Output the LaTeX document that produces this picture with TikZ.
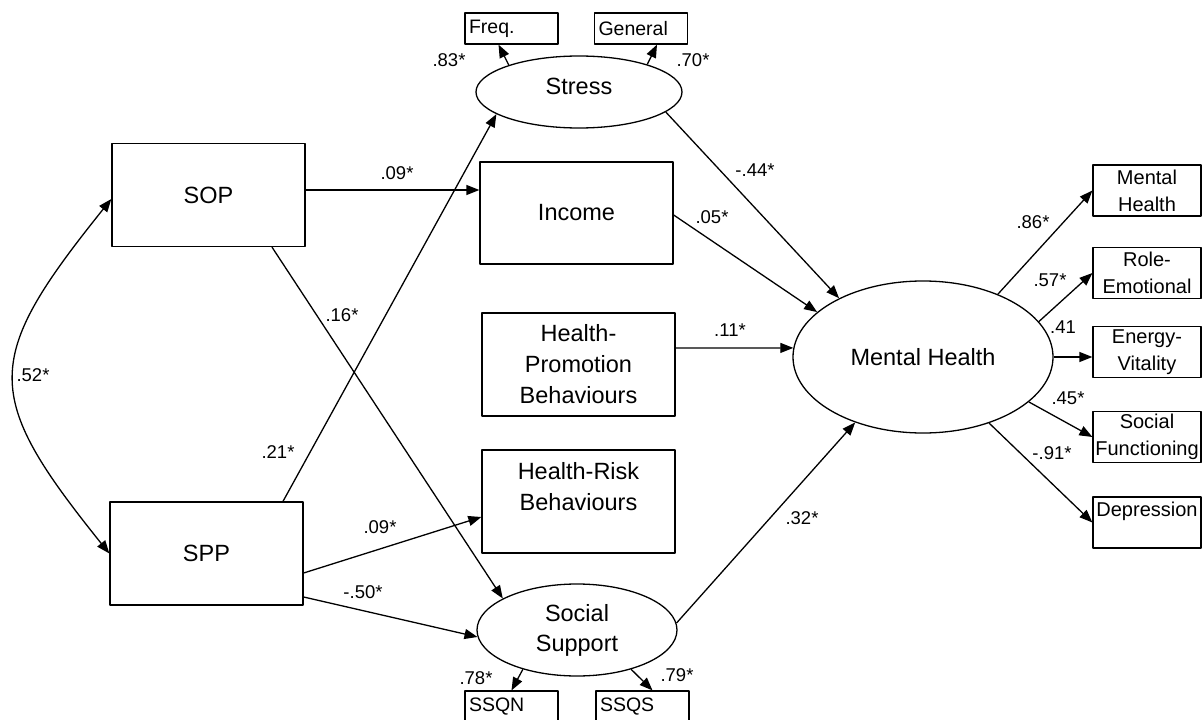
\documentclass[tikz,border=0pt]{standalone}
\usepackage{fontspec}
\setmainfont{Liberation Sans}
\usetikzlibrary{arrows.meta,positioning,calc,shapes.geometric}
\tikzset{
    every picture/.style={line join=round},
    obsbox/.style={draw,line width=1.3pt,minimum width=193pt,minimum height=103pt,
      inner sep=2pt,align=center,font=\fontsize{23.5}{31}\selectfont},
    latentnode/.style={draw,ellipse,line width=1.3pt,inner sep=0pt,align=center,
      font=\fontsize{23.5}{30}\selectfont},
    indbox/.style={draw,line width=1.2pt,minimum width=108pt,minimum height=51pt,
      inner sep=1pt,align=center,font=\fontsize{20}{27}\selectfont},
    tagbox/.style={draw,line width=1.2pt,minimum width=93pt,minimum height=31pt,
      text width=85pt,inner sep=4pt,align=left,font=\fontsize{19.5}{22}\selectfont},
    coef/.style={inner sep=0pt,font=\fontsize{18.5}{20}\selectfont},
    patharrow/.style={-{Triangle[length=13pt,width=10pt]},line width=1.3pt}
}
\begin{document}
\begin{tikzpicture}[x=1pt,y=-1pt]
  \path[use as bounding box] (0,0) rectangle (1203,720);
  \clip (0,0) rectangle (1203,720);
  % predictors
  \node[obsbox] (sop) at (208.5,195) {SOP};
  \node[obsbox] (spp) at (206.5,553.5) {SPP};
  % mediators
  \node[latentnode,minimum width=206pt,minimum height=72pt,text depth=12pt] (stress) at (579,92) {Stress};
  \node[obsbox,minimum height=102pt] (income) at (576.5,213) {Income};
  \node[obsbox] (hpb) at (578.5,364.5) {Health-\\Promotion\\Behaviours};
  \node[obsbox] (hrb) at (578.5,501.5) {Health-Risk\\Behaviours\\~};
  \node[latentnode,minimum width=200pt,minimum height=92pt] (socsup) at (577,630) {Social\\Support};
  % outcome
  \node[latentnode,minimum width=260pt,minimum height=152pt] (mh) at (923,357) {Mental Health};
  % indicators
  \node[tagbox] (freq) at (511.5,28.5) {Freq.};
  \node[tagbox] (general) at (641,28.5) {General};
  \node[tagbox,minimum height=32pt] (ssqn) at (511.5,707) {SSQN};
  \node[tagbox,minimum height=32pt] (ssqs) at (642.5,707) {SSQS};
  \foreach \nm/\txt/\yy in {mhind/{Mental\\Health}/190.5,roleem/{Role-\\Emotional}/273,
      energy/{Energy-\\Vitality}/352,socfun/{Social\\Functioning}/437,depress/{Depression\\~}/522.5}
    \node[indbox] (\nm) at (1147,\yy) {\txt};

  \draw[patharrow] (stress.159) -- ([xshift=-13pt]freq.south);
  \draw[patharrow] (stress.22) -- ([xshift=16pt]general.south);
  \draw[patharrow] (socsup.216) -- (ssqn.north);
  \draw[patharrow] (socsup.-36) -- ([xshift=10pt]ssqs.north);

  \draw[patharrow] ([yshift=5pt]sop.east) -- ([yshift=5pt]sop.east -| income.west);
  \draw[patharrow] ([xshift=63.5pt]sop.south) -- (socsup.157);
  \draw[patharrow] ([xshift=76.5pt]spp.north) -- (stress.195);
  \draw[patharrow] ([yshift=-19.5pt]spp.east) -- ([yshift=-15.5pt]hrb.west);
  \draw[patharrow] ([yshift=-43.5pt]spp.east) -- (socsup.184);

  \draw[patharrow] (stress.-13) -- (mh.145);
  \draw[patharrow] ([yshift=-2pt]income.east) -- (mh.157);
  \draw[patharrow] ([yshift=16.5pt]hpb.east) -- (mh.176);
  \draw[patharrow] (socsup.4) -- (mh.224);

  \draw[patharrow] (mh.40) -- (mhind.west);
  \draw[patharrow] (mh.17) -- (roleem.west);
  \draw[patharrow] (mh.east) -- (mh.east -| energy.west);
  \draw[patharrow] (mh.-23) -- (socfun.west);
  \draw[patharrow] (mh.-45) -- (depress.west);

  \draw[{Triangle[length=13pt,width=10pt]}-{Triangle[length=13pt,width=10pt]},line width=1.3pt]
    ([yshift=-4pt]sop.west) .. controls (-18,360) and (-18,395) .. (spp.west);

  % path coefficients
  \foreach \nm/\lx/\ly/\lt in {cfreq/449/60/.83*,cgen/693/60/.70*,cinc/397/173/.09*,
      csoc/342/315/.16*,cstr/278/452/.21*,chrb/380/527/.09*,csup/363/592/-.50*,
      cmstr/755/170/-.44*,cminc/712/217/.05*,cmhpb/730/330/.11*,cmsup/802/518/.32*,
      cind/1033/222/.86*,crole/1050/280/.57*,cener/1063/327/.41,cfun/1068/398/.45*,
      cdep/1052/453/-.91*,ccov/33/375/.52*,cssqn/476/678/.78*,cssqs/677/675/.79*}
    \node[coef] (\nm) at (\lx,\ly) {\lt};
\end{tikzpicture}
\end{document}
